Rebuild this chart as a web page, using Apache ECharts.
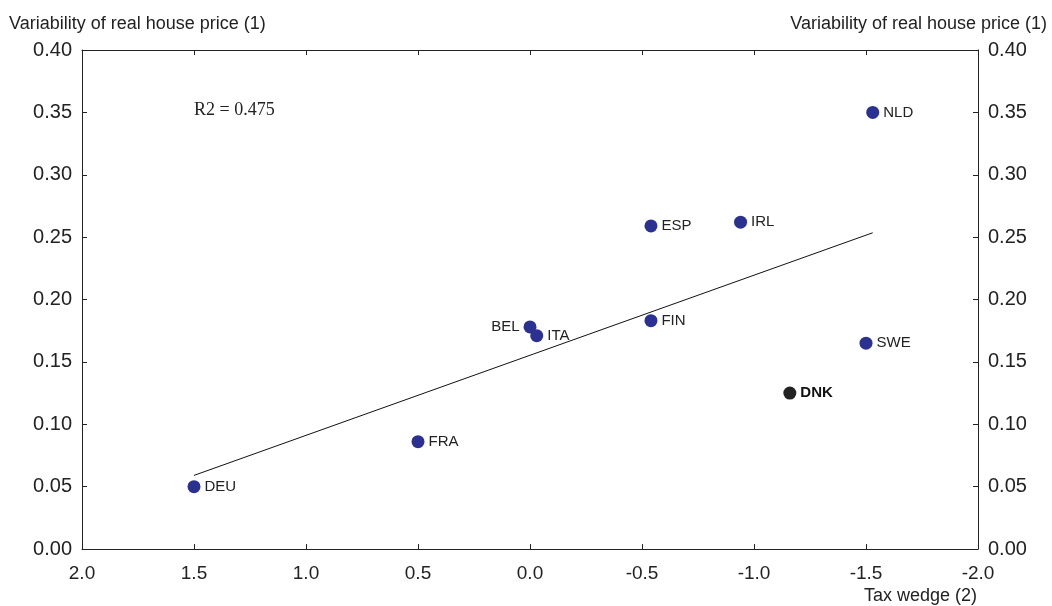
<!DOCTYPE html>
<html>
<head>
<meta charset="utf-8">
<script src="https://cdn.jsdelivr.net/npm/echarts@6/dist/echarts.min.js"></script>
<style>
  html, body { margin: 0; padding: 0; background: #fff; }
  #chart { width: 1052px; height: 606px; }
</style>
</head>
<body>
<div id="chart"></div>
<script>
// Country codes and their coordinates (tax wedge, variability of real house price)
const countries = ['DEU', 'FRA', 'BEL', 'ITA', 'ESP', 'FIN', 'IRL', 'NLD', 'SWE'];
const taxWedge = [1.50, 0.50, 0.00, -0.03, -0.54, -0.54, -0.94, -1.53, -1.50];
const priceVariability = [0.050, 0.086, 0.178, 0.171, 0.259, 0.183, 0.262, 0.350, 0.165];

// Denmark, highlighted separately
const dnkName = 'DNK';
const dnkTaxWedge = -1.16;
const dnkVariability = 0.125;

// Fitted regression line endpoints
const trendX = [1.50, -1.53];
const trendY = [0.059, 0.2535];
const r2Text = 'R2 = 0.475';

const xTicks = { min: -2, max: 2, interval: 0.5 };
const yTicks = { min: 0, max: 0.4, interval: 0.05 };

const font = 'Liberation Sans, Arial, sans-serif';
const axisColor = '#222';

const mainPoints = countries.map((c, i) => ({
  name: c,
  value: [taxWedge[i], priceVariability[i]],
  label: { position: c === 'BEL' ? 'left' : 'right' }
}));

const chart = echarts.init(document.getElementById('chart'), null, { renderer: 'canvas' });

function xAxisDef(pos, showLabels) {
  return {
    type: 'value',
    position: pos,
    inverse: true,
    min: xTicks.min, max: xTicks.max, interval: xTicks.interval,
    axisLine: { show: true, onZero: false, lineStyle: { color: axisColor, width: 1 } },
    axisTick: { show: true, inside: true, length: 5, lineStyle: { color: axisColor } },
    axisLabel: {
      show: showLabels, color: '#222', fontFamily: font, fontSize: 19, margin: 15,
      formatter: v => v.toFixed(1)
    },
    splitLine: { show: false }
  };
}

function yAxisDef(pos) {
  return {
    type: 'value',
    position: pos,
    min: yTicks.min, max: yTicks.max, interval: yTicks.interval,
    axisLine: { show: true, onZero: false, lineStyle: { color: axisColor, width: 1 } },
    axisTick: { show: true, inside: true, length: 5, lineStyle: { color: axisColor } },
    axisLabel: {
      show: true, color: '#222', fontFamily: font, fontSize: 20, margin: 10,
      formatter: v => v.toFixed(2)
    },
    splitLine: { show: false }
  };
}

chart.setOption({
  animation: false,
  backgroundColor: '#fff',
  grid: { left: 82, right: 74, top: 50, bottom: 57, containLabel: false },
  xAxis: [xAxisDef('bottom', true), xAxisDef('top', false)],
  yAxis: [yAxisDef('left'), yAxisDef('right')],
  graphic: [
    { type: 'text', left: 9, top: 15,
      style: { text: 'Variability of real house price (1)', font: '18px ' + font, fill: '#222' } },
    { type: 'text', right: 5, top: 15,
      style: { text: 'Variability of real house price (1)', font: '18px ' + font, fill: '#222' } },
    { type: 'text', right: 75, top: 587,
      style: { text: 'Tax wedge (2)', font: '18px ' + font, fill: '#222' } },
    { type: 'text', left: 194, top: 101,
      style: { text: r2Text, font: '18px Liberation Serif, Times New Roman, serif', fill: '#222' } }
  ],
  series: [
    {
      type: 'line',
      xAxisIndex: 0, yAxisIndex: 0,
      data: trendX.map((x, i) => [x, trendY[i]]),
      symbol: 'none',
      lineStyle: { color: '#111', width: 1 },
      z: 1
    },
    {
      type: 'scatter',
      xAxisIndex: 0, yAxisIndex: 0,
      data: mainPoints,
      symbolSize: 13,
      itemStyle: { color: '#2b3192', opacity: 1 },
      label: {
        show: true, formatter: p => p.name, distance: 4,
        color: '#222', fontFamily: font, fontSize: 15
      },
      z: 3
    },
    {
      type: 'scatter',
      xAxisIndex: 0, yAxisIndex: 0,
      data: [{ name: dnkName, value: [dnkTaxWedge, dnkVariability] }],
      symbolSize: 13,
      itemStyle: { color: '#222', opacity: 1 },
      label: {
        show: true, position: 'right', formatter: p => p.name, distance: 4,
        color: '#111', fontFamily: font, fontSize: 15, fontWeight: 'bold'
      },
      z: 3
    }
  ]
});
</script>
</body>
</html>
